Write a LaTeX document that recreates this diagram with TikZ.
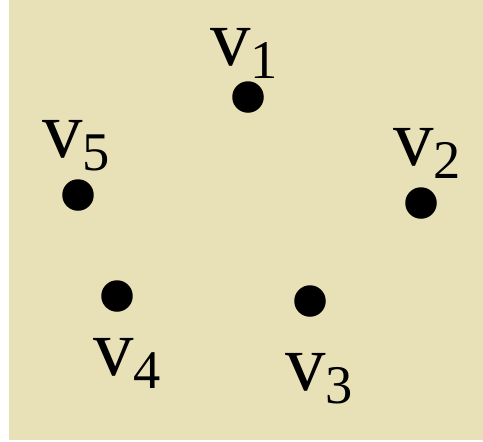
\documentclass[tikz,border=0pt]{standalone}
\usepackage{fontspec}
\setmainfont{Liberation Serif}
\usepackage{xcolor}
\usetikzlibrary{positioning}
\definecolor{paper}{RGB}{232,225,184}
\newcommand{\vname}[1]{v\raisebox{-7.4pt}{\fontsize{31}{31}\selectfont #1}}
\tikzset{
  vertex/.style={circle,fill=black,inner sep=0pt,minimum size=6.3mm},
  vlabel/.style={anchor=base west,inner sep=0pt,font=\fontsize{46}{46}\selectfont}
}

\begin{document}
\begin{tikzpicture}[x=0.02cm,y=-0.02cm]
  \useasboundingbox (0,0) rectangle (483,441);
  \fill[white] (0,0) rectangle (483,441);
  \fill[paper] (9,0) rectangle (483,440);
  % vertices
  \node[vertex] (v1) at (248,97) {};
  \node[vertex] (v2) at (421,203) {};
  \node[vertex] (v3) at (310,301) {};
  \node[vertex] (v4) at (117,296) {};
  \node[vertex] (v5) at (78,195) {};
  % names
  \node[vlabel] (l1) at (210,65) {\vname{1}};
  \node[vlabel] (l2) at (393,165) {\vname{2}};
  \node[vlabel] (l3) at (285,390) {\vname{3}};
  \node[vlabel] (l4) at (93,375) {\vname{4}};
  \node[vlabel] (l5) at (42,157) {\vname{5}};
\end{tikzpicture}
\end{document}
